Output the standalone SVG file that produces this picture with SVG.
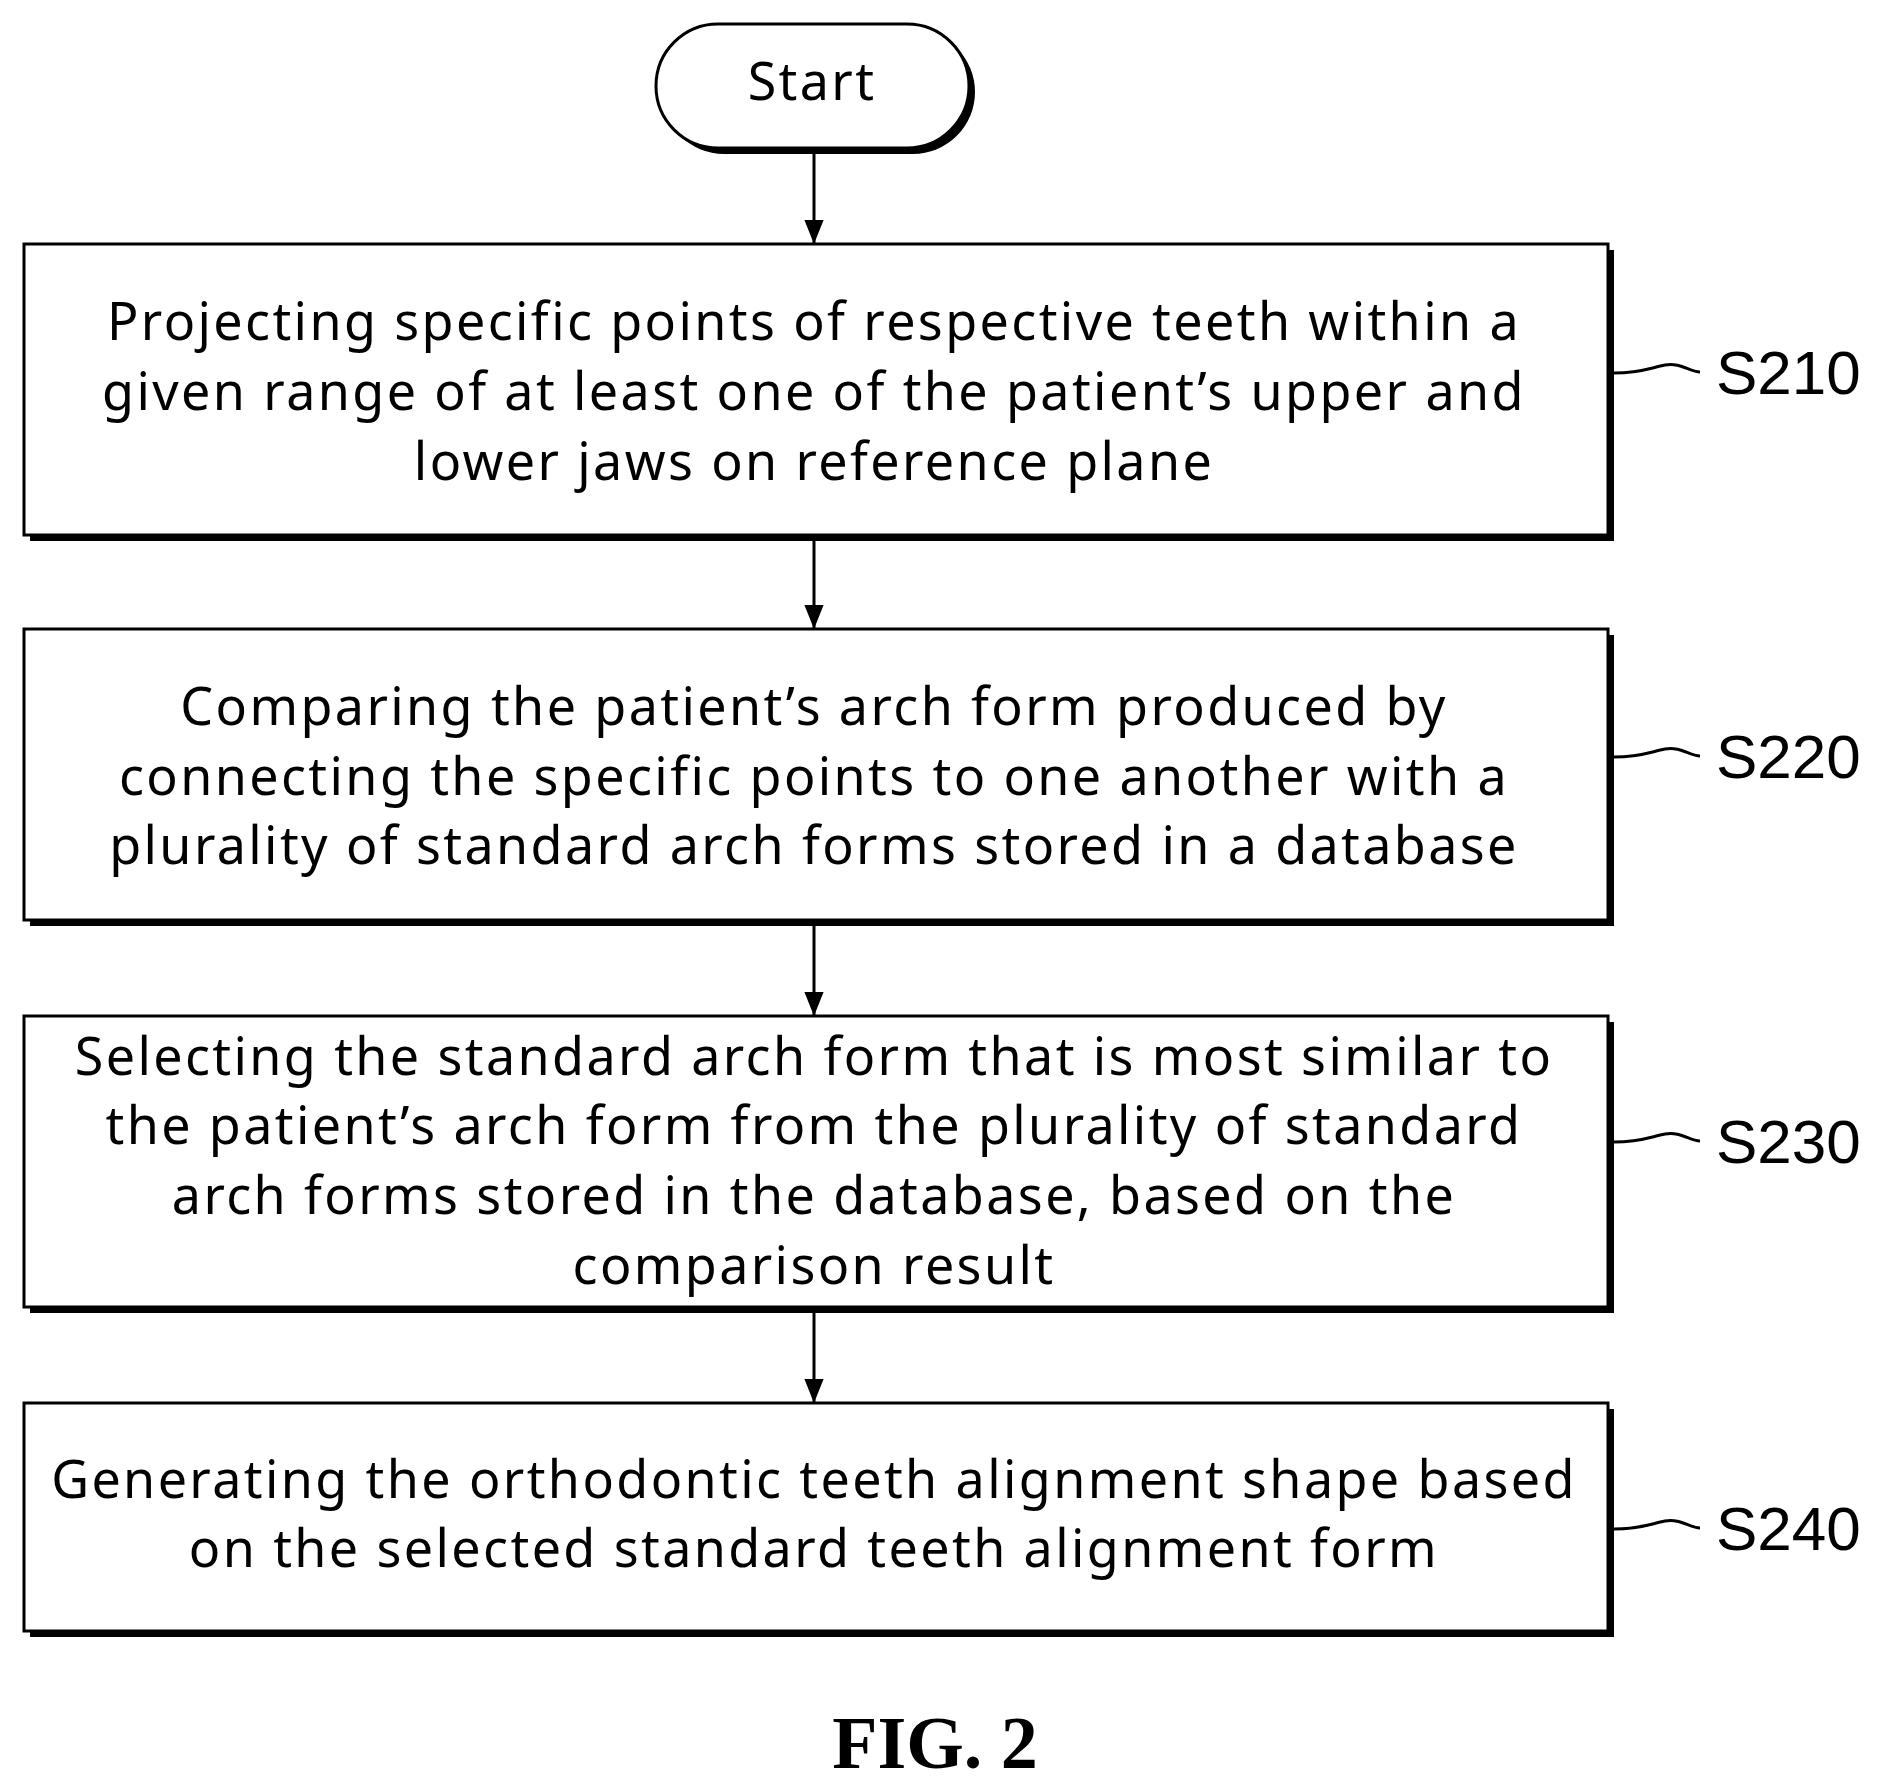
<svg xmlns="http://www.w3.org/2000/svg" width="1885" height="1789" viewBox="0 0 1885 1789">
<style>
.box{fill:#fff;stroke:#000;stroke-width:3}
.sh{fill:#000}
.t{font-family:"Noto Sans","Liberation Sans",sans-serif;font-size:52px;text-anchor:middle;fill:#000;letter-spacing:2.4px}
.lb{font-family:"Liberation Sans",sans-serif;font-size:62px;fill:#000}
.c{fill:none;stroke:#000;stroke-width:3}
</style>
<defs>
<marker id="ah" viewBox="0 0 10 10" refX="10" refY="5" markerWidth="24" markerHeight="24" markerUnits="userSpaceOnUse" orient="auto"><path d="M0,1 L10,5 L0,9 Z" fill="#000"/></marker></defs>
<g id="start"><rect x="662" y="30" width="313" height="124" rx="62" class="sh"/><rect x="656" y="24" width="313" height="124" rx="62" class="box"/><text x="812" y="100" class="t">Start</text></g>
<g id="s210"><rect x="30" y="250" width="1584" height="291" class="sh"/><rect x="24" y="244" width="1584" height="291" class="box"/>
<text class="t"><tspan x="814" y="340">Projecting specific points of respective teeth within a</tspan><tspan x="814" y="410">given range of at least one of the patient’s upper and</tspan><tspan x="814" y="480">lower jaws on reference plane</tspan></text></g>
<g id="s220"><rect x="30" y="635" width="1584" height="291" class="sh"/><rect x="24" y="629" width="1584" height="291" class="box"/>
<text class="t"><tspan x="814" y="725">Comparing the patient’s arch form produced by</tspan><tspan x="814" y="795">connecting the specific points to one another with a</tspan><tspan x="814" y="864">plurality of standard arch forms stored in a database</tspan></text></g>
<g id="s230"><rect x="30" y="1022" width="1584" height="291" class="sh"/><rect x="24" y="1016" width="1584" height="291" class="box"/>
<text class="t"><tspan x="814" y="1075">Selecting the standard arch form that is most similar to</tspan><tspan x="814" y="1144">the patient’s arch form from the plurality of standard</tspan><tspan x="814" y="1214">arch forms stored in the database, based on the</tspan><tspan x="814" y="1284">comparison result</tspan></text></g>
<g id="s240"><rect x="30" y="1409" width="1584" height="228" class="sh"/><rect x="24" y="1403" width="1584" height="228" class="box"/>
<text class="t"><tspan x="814" y="1498">Generating the orthodontic teeth alignment shape based</tspan><tspan x="814" y="1567">on the selected standard teeth alignment form</tspan></text></g>
<g id="labels">
<text x="1716" y="394" class="lb">S210</text><text x="1716" y="778" class="lb">S220</text><text x="1716" y="1163" class="lb">S230</text><text x="1716" y="1550" class="lb">S240</text>
<text x="935" y="1768" style="font-family:'Liberation Serif',serif;font-weight:bold;font-size:74px;text-anchor:middle">FIG. 2</text>
</g>
<g id="connectors">
<line x1="814" y1="148" x2="814" y2="244" class="c" marker-end="url(#ah)"/>
<line x1="814" y1="541" x2="814" y2="629" class="c" marker-end="url(#ah)"/>
<line x1="814" y1="926" x2="814" y2="1016" class="c" marker-end="url(#ah)"/>
<line x1="814" y1="1313" x2="814" y2="1403" class="c" marker-end="url(#ah)"/>
<path d="M1614,373 C1640,373 1650,368 1665,365 C1680,362 1690,372 1700,372" class="c"/>
<path d="M1614,757 C1640,757 1650,752 1665,749 C1680,746 1690,756 1700,756" class="c"/>
<path d="M1614,1142 C1640,1142 1650,1137 1665,1134 C1680,1131 1690,1141 1700,1141" class="c"/>
<path d="M1614,1529 C1640,1529 1650,1524 1665,1521 C1680,1518 1690,1528 1700,1528" class="c"/>
</g>
</svg>
